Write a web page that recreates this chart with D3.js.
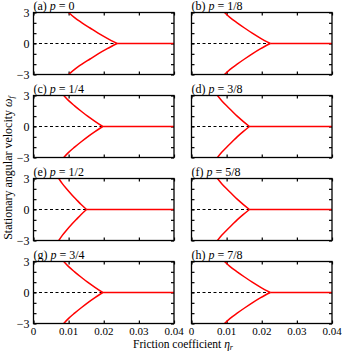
<!DOCTYPE html>
<html>
<head>
<meta charset="utf-8">
<script src="https://cdn.jsdelivr.net/npm/d3@7"></script>
<style>
  body { margin: 0; background: #fff; }
  text { font-family: "Liberation Serif", "DejaVu Serif", serif; }
</style>
</head>
<body>
<div id="chart"></div>
<script>
// panel titles
const panelTags = ['(a)', '(b)', '(c)', '(d)', '(e)', '(f)', '(g)', '(h)']
const pLabels = ['0', '1/8', '1/4', '3/8', '1/2', '5/8', '3/4', '7/8']

// |omega| levels along one branch, from the edge down to the cusp
const omegaLevels = [3, 2.5, 2, 1.5, 1, 0.5, 0]

// eta_r at each omega level
const etaA = [0.0100, 0.0117, 0.0138, 0.0161, 0.0184, 0.0210, 0.0238]
const etaB = [0.0094, 0.0110, 0.0130, 0.0151, 0.0173, 0.0197, 0.0224]
const etaC = [0.0086, 0.0100, 0.0117, 0.0135, 0.0154, 0.0175, 0.0197]
const etaD = [0.0074, 0.0086, 0.0100, 0.0115, 0.0130, 0.0147, 0.0165]
const etaE = [0.0072, 0.0082, 0.0094, 0.0107, 0.0121, 0.0135, 0.0151]
const etaF = [0.0074, 0.0086, 0.0100, 0.0115, 0.0130, 0.0147, 0.0165]
const etaG = [0.0086, 0.0100, 0.0117, 0.0135, 0.0154, 0.0175, 0.0197]
const etaH = [0.0094, 0.0110, 0.0130, 0.0151, 0.0173, 0.0197, 0.0224]
const etaSeries = [etaA, etaB, etaC, etaD, etaE, etaF, etaG, etaH]

const xTicks = [0, 0.01, 0.02, 0.03, 0.04]
const xTickLabels = ['0', '0.01', '0.02', '0.03', '0.04']
const yTicks = [-3, -2, -1, 0, 1, 2, 3]
const yTickLabels = { '-3': '\u22123', '0': '0', '3': '3' }

const W = 342, H = 351
const colLeft = [33.5, 191.5]
const panelW = 140.5
const rowTop = [12.5, 95.5, 178.5, 261.5]
const panelH = 62

const svg = d3.select('#chart').append('svg')
    .attr('width', W)
    .attr('height', H)

panelTags.forEach((tag, i) => {
    const col = i % 2, row = Math.floor(i / 2)
    const x = d3.scaleLinear().domain([0, 0.04]).range([colLeft[col], colLeft[col] + panelW])
    const y = d3.scaleLinear().domain([-3, 3]).range([rowTop[row] + panelH, rowTop[row]])
    const g = svg.append('g')

    // ticks (inward, all four sides)
    const tl = 3
    const axL = d3.axisRight(y).tickValues(yTicks).tickSize(tl).tickFormat('')
    const axR = d3.axisLeft(y).tickValues(yTicks).tickSize(tl).tickFormat('')
    const axB = d3.axisTop(x).tickValues(xTicks).tickSize(tl).tickFormat('')
    const axT = d3.axisBottom(x).tickValues(xTicks).tickSize(tl).tickFormat('')
    g.append('g').attr('transform', `translate(${x(0)},0)`).call(axL)
    g.append('g').attr('transform', `translate(${x(0.04)},0)`).call(axR)
    g.append('g').attr('transform', `translate(0,${y(-3)})`).call(axB)
    g.append('g').attr('transform', `translate(0,${y(3)})`).call(axT)
    g.selectAll('.domain').remove()
    g.selectAll('.tick line').attr('stroke', '#000').attr('stroke-width', 1.2)

    const eta = etaSeries[i]
    const etaC0 = eta[eta.length - 1]

    // dashed line for omega = 0 below the cusp
    g.append('line')
        .attr('x1', x(0)).attr('x2', x(etaC0))
        .attr('y1', y(0)).attr('y2', y(0))
        .attr('stroke', '#000').attr('stroke-width', 1)
        .attr('stroke-dasharray', '3,2.5')

    // red solid: omega = 0 beyond the cusp
    g.append('line')
        .attr('x1', x(etaC0)).attr('x2', x(0.04))
        .attr('y1', y(0)).attr('y2', y(0))
        .attr('stroke', '#ff0000').attr('stroke-width', 1.5)

    const line = d3.line()
        .x(d => x(d[0]))
        .y(d => y(d[1]))
        .curve(d3.curveMonotoneY)

    const upper = omegaLevels.map((w, k) => [eta[k], w])
    const lower = omegaLevels.map((w, k) => [eta[k], -w])
    ;[upper, lower].forEach(branch => {
        g.append('path')
            .attr('d', line(branch))
            .attr('fill', 'none')
            .attr('stroke', '#ff0000')
            .attr('stroke-width', 1.5)
    })

    // frame
    g.append('rect')
        .attr('x', x(0)).attr('y', y(3))
        .attr('width', x(0.04) - x(0)).attr('height', y(-3) - y(3))
        .attr('fill', 'none').attr('stroke', '#000').attr('stroke-width', 1.3)

    // title
    const t = g.append('text')
        .attr('x', x(0)).attr('y', y(3) - 3)
        .attr('font-size', 12)
    t.append('tspan').text(tag + ' ')
    t.append('tspan').attr('font-style', 'italic').text('p')
    t.append('tspan').text(' = ' + pLabels[i])

    // y tick labels on left column
    if (col === 0) {
        g.selectAll('.ylab').data([-3, 0, 3]).enter().append('text')
            .attr('x', x(0) - 4)
            .attr('y', d => y(d) + 4)
            .attr('text-anchor', 'end')
            .attr('font-size', 12)
            .text(d => yTickLabels[d])
    }
    // x tick labels on bottom row
    if (row === 3) {
        g.selectAll('.xlab').data(xTicks).enter().append('text')
            .attr('x', d => x(d))
            .attr('y', y(-3) + 11.5)
            .attr('text-anchor', 'middle')
            .attr('font-size', 11)
            .text((d, k) => xTickLabels[k])
    }
})

// axis titles
const xt = svg.append('text')
    .attr('x', 183).attr('y', 348)
    .attr('text-anchor', 'middle')
    .attr('font-size', 11.5)
xt.append('tspan').text('Friction coefficient  ')
xt.append('tspan').attr('font-style', 'italic').text('\u03b7')
xt.append('tspan').attr('font-style', 'italic').attr('font-size', 8).attr('dy', 2).text('r')

const yt = svg.append('text')
    .attr('transform', 'translate(12,168) rotate(-90)')
    .attr('text-anchor', 'middle')
    .attr('font-size', 12)
yt.append('tspan').text('Stationary angular velocity  ')
yt.append('tspan').attr('font-style', 'italic').text('\u03c9')
yt.append('tspan').attr('font-style', 'italic').attr('font-size', 8).attr('dy', 2).text('f')
</script>
</body>
</html>
